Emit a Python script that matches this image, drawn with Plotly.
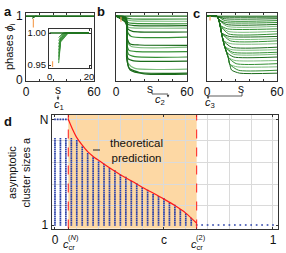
import plotly.graph_objects as go

W, H = 286, 253
FONT = "Arial, Liberation Sans, Helvetica, sans-serif"


def fx(px):
    return px / W


def fy(py):
    return 1 - py / H


GREEN = {"d": "#1b6b1b", "m": "#348f34", "l": "#7dbd7d"}
ORANGE = "#f5a35a"
BLUE = "#2a40a8"
RED = "#ff1a1a"
PEACH = "#fdd8a4"
FRAME = "#333333"
GRID = "#dadada"

# ---------------- data: panel a ----------------
a_sync_s = [0, 60]
a_sync_p = [1.0, 1.0]
a_blob_s0 = [5.5, 5.8, 6.0, 6.3]
a_blob_p0 = [0.965, 0.972, 0.98, 0.99]
a_blob_s1 = [8.0, 8.5, 9.0, 9.5]
a_marker_s = [6.5, 6.5]
a_marker_p = [0.96, 0.82]

# inset of panel a
inset_sync_s = [0, 20]
inset_sync_p = [1.0, 1.0]
inset_s_start = 4.6
inset_s_rise = 5.6
inset_p0 = [0.953, 0.958, 0.963, 0.968, 0.973, 0.978, 0.983, 0.988, 0.993]
inset_pmid = [0.986, 0.987, 0.988, 0.989, 0.990, 0.991, 0.992, 0.994, 0.996]
inset_s_merge = [9.5, 9.2, 8.9, 8.6, 8.3, 8.0, 7.6, 7.2, 6.8]
inset_marker_s = [1.5, 1.5]
inset_marker_p = [0.956, 0.947]

# ---------------- data: panel b ----------------
b_paths = [
    ([0, 60], [1.0, 1.0], "d"),
    ([0, 7, 10, 14, 60], [1.0, 0.995, 0.965, 0.955, 0.955], "m"),
    ([0, 7.5, 10, 15, 60], [1.0, 0.99, 0.94, 0.925, 0.92], "l"),
    ([0, 8, 10, 15, 60], [1.0, 0.985, 0.90, 0.885, 0.88], "m"),
    ([0, 8, 10, 16, 60], [1.0, 0.98, 0.87, 0.85, 0.85], "d"),
    ([0, 8, 10, 14, 60], [1.0, 0.97, 0.83, 0.815, 0.81], "l"),
    ([0, 8.5, 10, 14, 60], [1.0, 0.96, 0.80, 0.76, 0.75], "d"),
    ([0, 8.5, 10, 13, 60], [1.0, 0.95, 0.74, 0.68, 0.67], "m"),
    ([0, 8.5, 9.5, 12, 20, 60], [1.0, 0.94, 0.65, 0.56, 0.545, 0.54], "d"),
    ([0, 8.5, 9.5, 13, 60], [1.0, 0.93, 0.60, 0.52, 0.51], "l"),
    ([0, 8.5, 9.2, 11, 18, 60], [1.0, 0.92, 0.55, 0.46, 0.44, 0.44], "m"),
    ([0, 8.5, 9.2, 10.5, 16, 60], [1.0, 0.91, 0.50, 0.40, 0.36, 0.355], "m"),
    ([0, 8.5, 9.0, 10.2, 15, 60], [1.0, 0.90, 0.45, 0.33, 0.295, 0.29], "d"),
    ([0, 8.5, 9.0, 10.5, 16, 60], [1.0, 0.90, 0.40, 0.25, 0.175, 0.165], "l"),
    ([0, 8.5, 9.0, 11, 20, 60], [1.0, 0.89, 0.36, 0.18, 0.11, 0.10], "d"),
    ([0, 8.5, 9.0, 12, 24, 60], [1.0, 0.89, 0.34, 0.15, 0.09, 0.085], "d"),
]
b_marker_s = [4.2, 4.2]
b_marker_p = [0.99, 0.91]

# ---------------- data: panel c ----------------
c_env_s = [8.5, 10.0, 11.2, 12.4, 13.8, 15.2, 16.8, 18.2, 19.5, 21.0, 23.0]
c_env_p = [1.0, 0.95, 0.86, 0.74, 0.62, 0.52, 0.43, 0.35, 0.24, 0.15, 0.11]
c_levels = [1.0, 0.985, 0.96, 0.93, 0.90, 0.87, 0.84, 0.80, 0.76, 0.72, 0.68, 0.645,
            0.61, 0.565, 0.51, 0.47, 0.43, 0.40, 0.355, 0.30, 0.25, 0.20, 0.146, 0.10]
c_arrive = [0, 14, 15, 15.5, 16, 16.5, 17, 17.5, 18, 18.5, 19, 19.5,
            20, 20.5, 21, 21.5, 22, 22.5, 23, 24, 25, 26, 27, 28]
c_shade = ["d", "d", "d", "m", "m", "d", "l", "m", "l", "m", "d", "l",
           "m", "l", "d", "l", "m", "l", "d", "l", "m", "l", "m", "d"]
c_marker_s = [2.6, 2.6]
c_marker_p = [1.0, 0.93]

# ---------------- data: panel d ----------------
N = 50
c_crit_N = 0.061
c_crit_2 = 0.65
d_c = [0.0, 0.025, 0.05, 0.075, 0.1, 0.125, 0.15, 0.175, 0.2, 0.225, 0.25, 0.275,
       0.3, 0.325, 0.35, 0.375, 0.4, 0.425, 0.45, 0.475, 0.5, 0.525, 0.55, 0.575,
       0.6, 0.625, 0.65, 0.675, 0.7, 0.725, 0.75, 0.775, 0.8, 0.825, 0.85, 0.875,
       0.9, 0.925, 0.95, 0.975, 1.0]
d_amax = [41, 41, 41, 41, 40, 37, 34, 32, 30, 29, 27, 26, 24, 23, 21, 20, 18, 17,
          15, 14, 13, 11, 10, 8, 6, 4, 1, 1, 1, 1, 1, 1, 1, 1, 1, 1, 1, 1, 1, 1, 1]
d_top_c = [0.0, 0.0125, 0.025, 0.0375, 0.05]
theory_c = [0.061, 0.08, 0.1, 0.125, 0.15, 0.175, 0.2, 0.25, 0.3, 0.35, 0.4,
            0.45, 0.5, 0.55, 0.6, 0.65]
theory_a = [50, 45.5, 41.5, 38, 35, 32.8, 31, 27.5, 24.3, 21.5, 18.5,
            15.8, 13, 10, 6.5, 1.8]
d_tick_c = [0, c_crit_N, 0.5, c_crit_2, 1]
d_tick_text = ["0", "", "c", "", "1"]
d_grid_c = [0.1, 0.2, 0.3, 0.4, 0.5, 0.6, 0.7, 0.8, 0.9, 1.0]
d_grid_a = [10, 20, 30, 40, 50]

# ---------------- figure ----------------
fig = go.Figure()


def line(xs, ys, color, width, xa, ya, dash=None, shape="linear"):
    fig.add_trace(go.Scatter(x=xs, y=ys, mode="lines", xaxis=xa, yaxis=ya,
                             line=dict(color=color, width=width, dash=dash,
                                       shape=shape, smoothing=0.6),
                             hoverinfo="skip", showlegend=False))


# panel a
line(a_sync_s, a_sync_p, GREEN["d"], 1.6, "x", "y")
for s0, p0, s1 in zip(a_blob_s0, a_blob_p0, a_blob_s1):
    line([s0, s1], [p0, 1.0], GREEN["d"], 1.0, "x", "y")
line(a_marker_s, a_marker_p, ORANGE, 1.2, "x", "y", dash="dash")

# inset
for p0, pm, sm in zip(inset_p0, inset_pmid, inset_s_merge):
    line([inset_s_start, inset_s_rise, sm, 20], [p0, pm, 1.0, 1.0], GREEN["m"], 0.9, "x2", "y2")
line(inset_sync_s, inset_sync_p, GREEN["d"], 1.6, "x2", "y2")
line(inset_marker_s, inset_marker_p, ORANGE, 1.2, "x2", "y2", dash="dash")

# panel b
for xs, ys, sh in sorted(b_paths, key=lambda t: {"l": 0, "m": 1, "d": 2}[t[2]]):
    line(xs, ys, GREEN[sh], 1.2, "x3", "y3", shape="spline")
line(b_marker_s, b_marker_p, ORANGE, 1.2, "x3", "y3", dash="dash")

# panel c
order = sorted(range(len(c_levels)), key=lambda i: {"l": 0, "m": 1, "d": 2}[c_shade[i]])
for i in order:
    lvl = c_levels[i]
    if lvl >= 1.0:
        xs, ys = [0, 60], [1.0, 1.0]
    else:
        xs, ys = [0], [1.0]
        for s, p in zip(c_env_s, c_env_p):
            if p > lvl + 0.03:
                xs.append(s)
                ys.append(p)
        xs += [c_arrive[i], 60]
        ys += [lvl, lvl]
    line(xs, ys, GREEN[c_shade[i]], 1.0, "x4", "y4", shape="spline")
line(c_marker_s, c_marker_p, ORANGE, 1.2, "x4", "y4", dash="dash")

# panel d dots
dx, dy = [], []
for c, am in zip(d_c, d_amax):
    for a in range(1, am + 1):
        dx.append(c)
        dy.append(a)
for c in d_top_c:
    dx.append(c)
    dy.append(N)
fig.add_trace(go.Scatter(x=dx, y=dy, mode="markers", xaxis="x5", yaxis="y5",
                         marker=dict(color=BLUE, size=1.7, symbol="square",
                                     line=dict(width=0)),
                         hoverinfo="skip", showlegend=False))
line(theory_c, theory_a, RED, 1.2, "x5", "y5", shape="spline")

# ---------------- layout ----------------
ax_common = dict(showline=True, linecolor=FRAME, linewidth=1, mirror="ticks",
                 showgrid=False, zeroline=False, ticks="inside", ticklen=2,
                 tickcolor=FRAME, tickfont=dict(size=12, color="#111"),
                 automargin=False)

s_ticks = [0, 12, 24, 36, 48, 60]
s_text = ["0", "", "", "", "", "60"]
row_dom = [fy(80.5), fy(12.5)]

layout = dict(
    width=W, height=H, margin=dict(l=0, r=0, t=0, b=0, pad=0),
    paper_bgcolor="white", plot_bgcolor="white",
    font=dict(family=FONT, size=12, color="#111"),
    xaxis=dict(ax_common, domain=[fx(26), fx(94)], range=[0, 60], anchor="y",
               tickvals=s_ticks, ticktext=s_text),
    yaxis=dict(ax_common, domain=row_dom, range=[-0.016, 1.058], anchor="x",
               tickvals=[0, 1], ticktext=["0", "1"], ticks=""),
    xaxis2=dict(ax_common, domain=[fx(49), fx(91)], range=[-0.3, 21], anchor="y2",
                tickvals=[0, 20], tickfont=dict(size=9.5, color="#111")),
    yaxis2=dict(ax_common, domain=[fy(67.5), fy(29)], range=[0.9461, 1.00625], anchor="x2",
                tickvals=[0.95, 1.0], ticktext=["0.95", "1.00"],
                tickfont=dict(size=9.5, color="#111")),
    xaxis3=dict(ax_common, domain=[fx(116), fx(187)], range=[0, 60], anchor="y3",
                tickvals=s_ticks, ticktext=s_text),
    yaxis3=dict(ax_common, domain=row_dom, range=[-0.016, 1.058], anchor="x3",
                showticklabels=False, ticks=""),
    xaxis4=dict(ax_common, domain=[fx(207), fx(277)], range=[0, 60], anchor="y4",
                tickvals=s_ticks, ticktext=s_text),
    yaxis4=dict(ax_common, domain=row_dom, range=[-0.016, 1.058], anchor="x4",
                showticklabels=False, ticks=""),
    xaxis5=dict(ax_common, domain=[fx(51.7), fx(277.7)], range=[-0.015, 1.0216],
                anchor="y5", tickvals=d_tick_c, ticktext=d_tick_text,
                minor=dict(tickvals=d_grid_c, showgrid=True, gridcolor=GRID,
                           gridwidth=1, ticks="")),
    yaxis5=dict(ax_common, domain=[fy(228.5), fy(115)], range=[-0.62, 52],
                anchor="x5", tickvals=[1, N], ticktext=["1", "N"],
                minor=dict(tickvals=d_grid_a, showgrid=True, gridcolor=GRID,
                           gridwidth=1, ticks="")),
)
fig.update_layout(**layout)

shapes = [
    dict(type="rect", xref="x5", yref="y5 domain", x0=c_crit_N, x1=c_crit_2,
         y0=0, y1=1, fillcolor=PEACH, line=dict(width=0), layer="below"),
    dict(type="line", xref="x5", yref="y5 domain", x0=c_crit_N, x1=c_crit_N,
         y0=0, y1=1, line=dict(color=RED, width=1, dash="dash")),
    dict(type="line", xref="x5", yref="y5 domain", x0=c_crit_2, x1=c_crit_2,
         y0=0, y1=1, line=dict(color=RED, width=1, dash="dash")),
    # leader line for "theoretical prediction"
    dict(type="line", xref="paper", yref="paper", x0=fx(93), x1=fx(100),
         y0=fy(150), y1=fy(150), line=dict(color="#222", width=1)),
    # bracket b
    dict(type="line", xref="paper", yref="paper", x0=fx(152), x1=fx(152),
         y0=fy(92), y1=fy(94), line=dict(color="#333", width=0.8)),
    dict(type="line", xref="paper", yref="paper", x0=fx(152), x1=fx(168),
         y0=fy(94), y1=fy(94), line=dict(color="#333", width=0.8)),
    # bracket c
    dict(type="line", xref="paper", yref="paper", x0=fx(242), x1=fx(242),
         y0=fy(93), y1=fy(96), line=dict(color="#333", width=0.8)),
    dict(type="line", xref="paper", yref="paper", x0=fx(242), x1=fx(208),
         y0=fy(96), y1=fy(96), line=dict(color="#333", width=0.8)),
]
fig.update_layout(shapes=shapes)


def ann(x, y, text, size=12, bold=False, angle=0, **kw):
    t = f"<b>{text}</b>" if bold else text
    d = dict(x=fx(x), y=fy(y), xref="paper", yref="paper", text=t, showarrow=False,
             font=dict(size=size, color="#111", family=FONT), textangle=angle,
             xanchor="center", yanchor="middle")
    d.update(kw)
    fig.add_annotation(**d)


def arrow(x, y0, y1):
    fig.add_annotation(x=fx(x), y=fy(y1), xref="paper", yref="paper", text="",
                       showarrow=True, ax=0, ay=-(y1 - y0), arrowhead=2,
                       arrowsize=0.7, arrowwidth=0.8, arrowcolor="#333")


ann(8, 12, "a", size=13, bold=True)
ann(101, 12, "b", size=13, bold=True)
ann(196, 13, "c", size=13, bold=True)
ann(8, 121, "d", size=13, bold=True)
ann(10, 47, "phases <i>ϕ</i><sub>i</sub>", size=11, angle=-90)
ann(58, 90, "s")
ann(150, 89, "s")
ann(241, 89, "s")
arrow(58, 94, 100)
ann(59, 105, "<i>c</i><sub>1</sub>", size=11)
arrow(168, 94, 97.5)
ann(160, 100, "<i>c</i><sub>2</sub>", size=11)
arrow(208, 96, 99)
ann(210, 103, "<i>c</i><sub>3</sub>", size=11)
ann(18.5, 172, "asymptotic<br>cluster sizes a", size=11, angle=-90)
ann(136, 150, "theoretical<br>prediction", size=11.5)
ann(69, 245, "<i>c</i><sub>cr</sub>", size=11)
ann(73, 237, "(<i>N</i>)", size=7.5)
ann(197, 245, "<i>c</i><sub>cr</sub>", size=11)
ann(201, 237, "(2)", size=7.5)

fig.write_html("out.html", config={"displayModeBar": False, "staticPlot": True},
               post_script="document.body.style.margin='0';document.body.style.padding='0';")
